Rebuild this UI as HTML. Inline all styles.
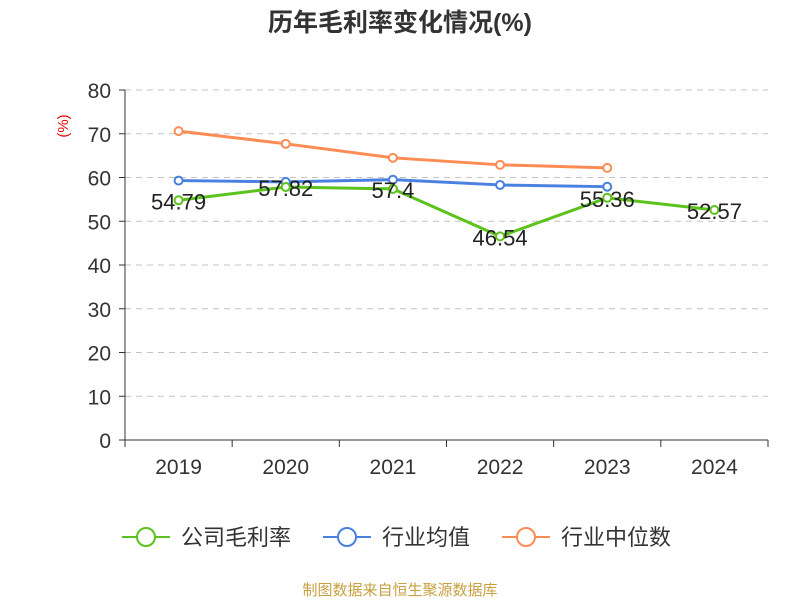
<!DOCTYPE html>
<html><head><meta charset="utf-8"><style>
body{margin:0;background:#fff;}
svg text{font-family:"Liberation Sans","Noto Sans CJK SC",sans-serif;}
</style></head><body>
<svg id="chart" width="800" height="600">
<text x="400" y="31" text-anchor="middle" font-size="25" font-weight="bold" fill="#333">历年毛利率变化情况(%)</text>
<text transform="translate(68,126) rotate(-90)" text-anchor="middle" font-size="15" fill="#e00">(%)</text>
<g id="grid"></g><g id="axes"></g><g id="series"></g>
<g>
 <g><line x1="122" y1="537" x2="170" y2="537" stroke="#5cc21c" stroke-width="2"/><circle cx="146" cy="537" r="9" fill="#fff" stroke="#5cc21c" stroke-width="2"/><text x="181" y="545" font-size="22" fill="#333">公司毛利率</text></g>
 <g><line x1="323" y1="537" x2="371" y2="537" stroke="#4a80e0" stroke-width="2"/><circle cx="347" cy="537" r="9" fill="#fff" stroke="#4a80e0" stroke-width="2"/><text x="382" y="545" font-size="22" fill="#333">行业均值</text></g>
 <g><line x1="502" y1="537" x2="550" y2="537" stroke="#ff8c55" stroke-width="2"/><circle cx="526" cy="537" r="9" fill="#fff" stroke="#ff8c55" stroke-width="2"/><text x="561" y="545" font-size="22" fill="#333">行业中位数</text></g>
</g>
<text x="400" y="595" text-anchor="middle" font-size="15" fill="#c8a040">制图数据来自恒生聚源数据库</text>
</svg>
<script>
const categories=["2019","2020","2021","2022","2023","2024"];
const companyValues=[54.79,57.82,57.4,46.54,55.36,52.57];
const industryAvg=[59.3,59.0,59.5,58.3,57.9];
const industryMedian=[70.6,67.7,64.5,62.9,62.2];
const yTicks=[0,10,20,30,40,50,60,70,80];
const NS="http://www.w3.org/2000/svg";
const L=125,R=768,T=90,B=440,yMax=80;
const bw=(R-L)/categories.length;
const x=i=>L+bw*(i+0.5);
const y=v=>B-(v/yMax)*(B-T);
function mk(tag,attrs,parent){const e=document.createElementNS(NS,tag);for(const k in attrs)e.setAttribute(k,attrs[k]);parent.appendChild(e);return e;}
const grid=document.getElementById('grid'),axes=document.getElementById('axes'),ser=document.getElementById('series');
yTicks.forEach(t=>{
 if(t>0){const g=mk('line',{x1:L,x2:R,y1:y(t),y2:y(t),stroke:'#c4c4c4','stroke-dasharray':'6,5'},grid);
 
 }
 const tk=mk('line',{x1:L-6,x2:L,y1:y(t),y2:y(t),stroke:'#333'},axes);
 
 
 const tx=mk('text',{x:L-14,y:y(t)+8,'text-anchor':'end','font-size':21,fill:'#333'},axes);tx.textContent=t;
 
 
});
const ya=mk('line',{x1:L,x2:L,y1:T,y2:B,stroke:'#333'},axes);


const xa=mk('line',{x1:L,x2:R,y1:B,y2:B,stroke:'#333'},axes);


for(let i=0;i<=categories.length;i++){const tk=mk('line',{x1:L+bw*i,x2:L+bw*i,y1:B,y2:B+7,stroke:'#333'},axes);
 
 }
categories.forEach((c,i)=>{const tx=mk('text',{x:x(i),y:B+34,'text-anchor':'middle','font-size':21,fill:'#333'},axes);tx.textContent=c;
 
 });
function line(vals,color,name,labels){
 const g=mk('g',{},ser);
 
 
 const p=mk('polyline',{points:vals.map((v,i)=>x(i)+','+y(v)).join(' '),fill:'none',stroke:color,'stroke-width':3},g);
 
 
 vals.forEach((v,i)=>{const c=mk('circle',{cx:x(i),cy:y(v),r:4,fill:'#fff',stroke:color,'stroke-width':2},g);
  
  
  if(labels){const t=mk('text',{x:x(i),y:y(v)+9,'text-anchor':'middle','font-size':22,fill:'#222'},g);t.textContent=v;
   
   }
 });
}
line(industryMedian,'#ff8c55','industry-median-series',false);
line(industryAvg,'#4a80e0','industry-avg-series',false);
line(companyValues,'#5cc21c','company-series',true);
</script>
</body></html>
